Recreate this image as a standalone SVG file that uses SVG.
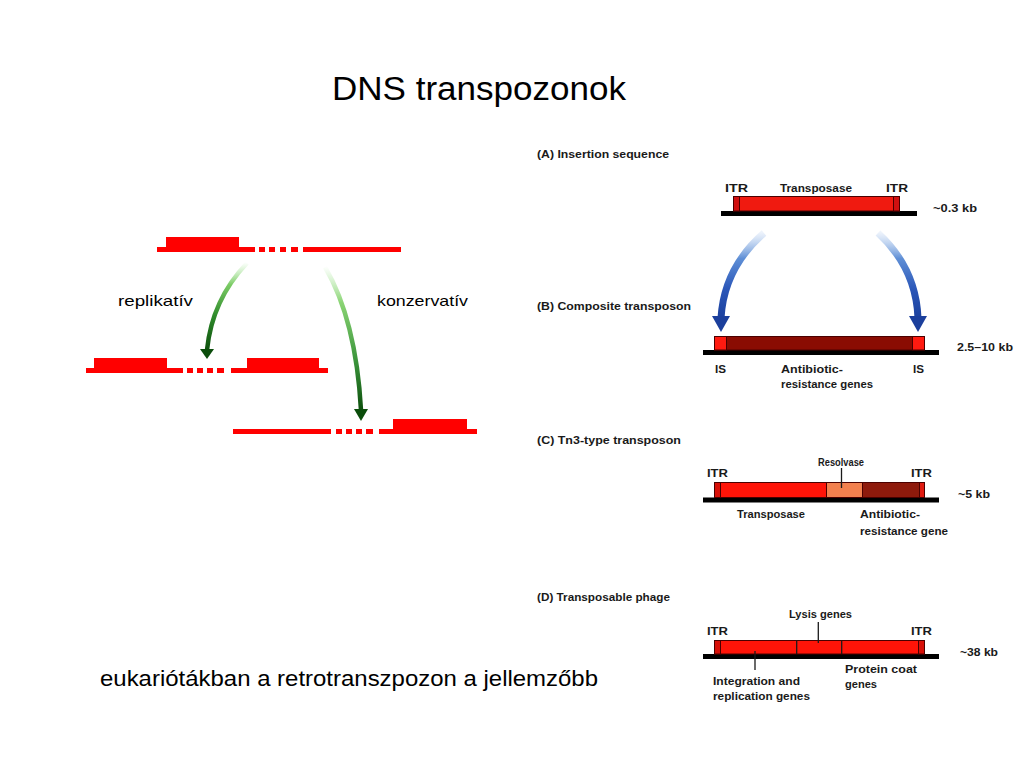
<svg xmlns="http://www.w3.org/2000/svg" width="1024" height="768" viewBox="0 0 1024 768">
<defs>
<style>
.t{font-family:"Liberation Sans","DejaVu Sans",sans-serif;fill:#000}
.lab{font-family:"Liberation Sans","DejaVu Sans",sans-serif;font-weight:bold;font-size:11px;fill:#1a1a1a}
.red{fill:#ff0000}
.dna{fill:#000}
.box{stroke:#4a0000;stroke-width:1}
.tick{stroke:#1a1a1a;stroke-width:1.3}
</style>
<linearGradient id="gL" gradientUnits="userSpaceOnUse" x1="0" y1="262" x2="0" y2="352"><stop offset="0" stop-color="#a8e89a" stop-opacity="0"/><stop offset="0.25" stop-color="#7ccc66"/><stop offset="0.6" stop-color="#2e8a2a"/><stop offset="1" stop-color="#0b4d0b"/></linearGradient>
<linearGradient id="gR" gradientUnits="userSpaceOnUse" x1="0" y1="266" x2="0" y2="412"><stop offset="0" stop-color="#a8e89a" stop-opacity="0"/><stop offset="0.25" stop-color="#8ad474"/><stop offset="0.65" stop-color="#3a943a"/><stop offset="1" stop-color="#0b4d0b"/></linearGradient>
<linearGradient id="gB" gradientUnits="userSpaceOnUse" x1="0" y1="232" x2="0" y2="320"><stop offset="0" stop-color="#a9c6ee" stop-opacity="0.2"/><stop offset="0.3" stop-color="#5f8fd6"/><stop offset="0.65" stop-color="#2a56b8"/><stop offset="1" stop-color="#1b3f9c"/></linearGradient>
</defs>
<rect width="1024" height="768" fill="#fff"/>
<text class="t" x="332" y="100" font-size="34" textLength="294" lengthAdjust="spacingAndGlyphs">DNS transpozonok</text>

<g id="left-top">
<rect class="red" x="157" y="247" width="98" height="5"/>
<rect class="red" x="166" y="237" width="73" height="15"/>
<rect class="red" x="259" y="247" width="6" height="5"/><rect class="red" x="269" y="247" width="6" height="5"/><rect class="red" x="280" y="247" width="6" height="5"/><rect class="red" x="291" y="247" width="7" height="5"/>
<rect class="red" x="303" y="247" width="98" height="5"/>
</g>
<g id="left-mid">
<rect class="red" x="86" y="368" width="97" height="5"/>
<rect class="red" x="94" y="358" width="73" height="15"/>
<rect class="red" x="187" y="368" width="6" height="5"/><rect class="red" x="197" y="368" width="6" height="5"/><rect class="red" x="207" y="368" width="6" height="5"/><rect class="red" x="217" y="368" width="7" height="5"/>
<rect class="red" x="231" y="368" width="97" height="5"/>
<rect class="red" x="247" y="358" width="72" height="15"/>
</g>
<g id="left-bot">
<rect class="red" x="233" y="429" width="98" height="5"/>
<rect class="red" x="336" y="429" width="6" height="5"/><rect class="red" x="346" y="429" width="6" height="5"/><rect class="red" x="356" y="429" width="6" height="5"/><rect class="red" x="366" y="429" width="7" height="5"/>
<rect class="red" x="379" y="429" width="98" height="5"/>
<rect class="red" x="393" y="419" width="74" height="15"/>
</g>
<text class="t" x="118" y="306" font-size="15" textLength="75" lengthAdjust="spacingAndGlyphs">replikatív</text>
<text class="t" x="377" y="306" font-size="15" textLength="91" lengthAdjust="spacingAndGlyphs">konzervatív</text>
<text class="t" x="100" y="686" font-size="22" textLength="498" lengthAdjust="spacingAndGlyphs">eukariótákban a retrotranszpozon a jellemzőbb</text>

<g id="connectors">
<path d="M247,263 Q212,300 207,350" fill="none" stroke="url(#gL)" stroke-width="4.5"/>
<polygon points="200,349 214,349 207,359" fill="#0b4d0b"/>
<path d="M325,267 Q356,320 361,410" fill="none" stroke="url(#gR)" stroke-width="4.5"/>
<polygon points="354,409 368,409 361,421" fill="#0b4d0b"/>
<path d="M764,233 Q724,268 721,318" fill="none" stroke="url(#gB)" stroke-width="7"/>
<polygon points="712,316 730,316 721,332" fill="#1b3f9c"/>
<path d="M878,233 Q916,268 918,318" fill="none" stroke="url(#gB)" stroke-width="7"/>
<polygon points="909,316 927,316 918,332" fill="#1b3f9c"/>
</g>

<g id="panel-a">
<text class="lab" x="537" y="158" textLength="132" lengthAdjust="spacingAndGlyphs">(A) Insertion sequence</text>
<rect class="dna" x="721" y="211" width="196" height="5"/>
<rect class="box" x="733.5" y="196.5" width="166" height="14.5" fill="#f01a10"/>
<rect class="box" x="733.5" y="196.5" width="6" height="14.5" fill="#d01010"/>
<rect class="box" x="893.5" y="196.5" width="6" height="14.5" fill="#d01010"/>
<text class="lab" x="725" y="192" textLength="23" lengthAdjust="spacingAndGlyphs">ITR</text>
<text class="lab" x="780" y="192" textLength="72" lengthAdjust="spacingAndGlyphs">Transposase</text>
<text class="lab" x="886" y="192" textLength="22" lengthAdjust="spacingAndGlyphs">ITR</text>
<text class="lab" x="933" y="212" textLength="44" lengthAdjust="spacingAndGlyphs">~0.3 kb</text>
</g>

<g id="panel-b">
<text class="lab" x="537" y="310" textLength="154" lengthAdjust="spacingAndGlyphs">(B) Composite transposon</text>
<rect class="dna" x="703" y="350" width="236" height="5"/>
<rect class="box" x="714.5" y="336.5" width="210" height="13.5" fill="#8a0c02"/>
<rect class="box" x="714.5" y="336.5" width="12" height="13.5" fill="#ff1a10"/>
<rect class="box" x="912.5" y="336.5" width="12" height="13.5" fill="#ff1a10"/>
<text class="lab" x="715" y="373" textLength="11" lengthAdjust="spacingAndGlyphs">IS</text>
<text class="lab" x="781" y="373" textLength="62" lengthAdjust="spacingAndGlyphs">Antibiotic-</text>
<text class="lab" x="781" y="388" textLength="92" lengthAdjust="spacingAndGlyphs">resistance genes</text>
<text class="lab" x="913" y="373" textLength="11" lengthAdjust="spacingAndGlyphs">IS</text>
<text class="lab" x="957" y="351" textLength="56" lengthAdjust="spacingAndGlyphs">2.5–10 kb</text>
</g>

<g id="panel-c">
<text class="lab" x="537" y="444" textLength="144" lengthAdjust="spacingAndGlyphs">(C) Tn3-type transposon</text>
<rect class="dna" x="703" y="497.5" width="236" height="5"/>
<rect class="box" x="714.5" y="482.5" width="112" height="15" fill="#ff1408"/>
<rect class="box" x="714.5" y="482.5" width="6" height="15" fill="#d81008"/>
<rect class="box" x="826.5" y="482.5" width="36" height="15" fill="#f2804e"/>
<rect class="box" x="862.5" y="482.5" width="62" height="15" fill="#8e1a0c"/>
<rect class="box" x="919.5" y="482.5" width="5" height="15" fill="#e01a10"/>
<line class="tick" x1="841.5" y1="468" x2="841.5" y2="488"/>
<text class="lab" x="818" y="466" textLength="46" lengthAdjust="spacingAndGlyphs">Resolvase</text>
<text class="lab" x="707" y="477" textLength="21" lengthAdjust="spacingAndGlyphs">ITR</text>
<text class="lab" x="911" y="477" textLength="21" lengthAdjust="spacingAndGlyphs">ITR</text>
<text class="lab" x="958" y="498" textLength="32" lengthAdjust="spacingAndGlyphs">~5 kb</text>
<text class="lab" x="737" y="518" textLength="68" lengthAdjust="spacingAndGlyphs">Transposase</text>
<text class="lab" x="860" y="518" textLength="60" lengthAdjust="spacingAndGlyphs">Antibiotic-</text>
<text class="lab" x="860" y="535" textLength="88" lengthAdjust="spacingAndGlyphs">resistance gene</text>
</g>

<g id="panel-d">
<text class="lab" x="537" y="601" textLength="133" lengthAdjust="spacingAndGlyphs">(D) Transposable phage</text>
<rect class="dna" x="703" y="654" width="236" height="5"/>
<rect class="box" x="714.5" y="640.5" width="210" height="13.5" fill="#ff1408"/>
<rect class="box" x="714.5" y="640.5" width="6" height="13.5" fill="#d81008"/>
<rect class="box" x="918.5" y="640.5" width="6" height="13.5" fill="#d81008"/>
<line class="tick" x1="796.7" y1="640.5" x2="796.7" y2="654"/>
<line class="tick" x1="841.7" y1="640.5" x2="841.7" y2="654"/>
<line class="tick" x1="818.3" y1="622" x2="818.3" y2="643"/>
<line class="tick" x1="755" y1="651" x2="755" y2="670"/>
<text class="lab" x="789" y="618" textLength="63" lengthAdjust="spacingAndGlyphs">Lysis genes</text>
<text class="lab" x="707" y="635" textLength="21" lengthAdjust="spacingAndGlyphs">ITR</text>
<text class="lab" x="911" y="635" textLength="21" lengthAdjust="spacingAndGlyphs">ITR</text>
<text class="lab" x="960" y="656" textLength="38" lengthAdjust="spacingAndGlyphs">~38 kb</text>
<text class="lab" x="713" y="685" textLength="87" lengthAdjust="spacingAndGlyphs">Integration and</text>
<text class="lab" x="713" y="700" textLength="97" lengthAdjust="spacingAndGlyphs">replication genes</text>
<text class="lab" x="845" y="673" textLength="72" lengthAdjust="spacingAndGlyphs">Protein coat</text>
<text class="lab" x="845" y="688" textLength="32" lengthAdjust="spacingAndGlyphs">genes</text>
</g>
</svg>
